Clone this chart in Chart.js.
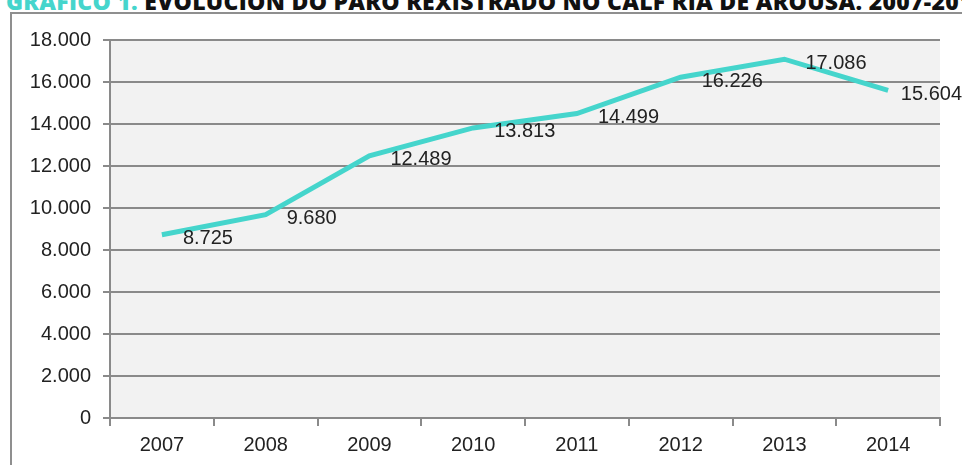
<!DOCTYPE html>
<html>
<head>
<meta charset="utf-8">
<script src="https://cdn.jsdelivr.net/npm/chart.js@4/dist/chart.umd.min.js"></script>
<style>
  html, body { margin: 0; padding: 0; background: #fff; overflow: hidden; }
  #wrap { position: relative; width: 962px; height: 465px; overflow: hidden; }
  #title {
    position: absolute; left: 6px; top: -15px; white-space: nowrap;
    font-family: "Open Sans", sans-serif; font-weight: 800; font-size: 23px;
    color: #111; letter-spacing: 0.3px;
  }
  #title span { color: #45d5cc; }
  canvas { position: absolute; left: 0; top: 0; }
</style>
</head>
<body>
<div id="wrap">
  <div id="title"><span>GRÁFICO 1.</span> EVOLUCIÓN DO PARO REXISTRADO NO CALF RIA DE AROUSA. 2007-2014</div>
  <canvas id="myChart" width="962" height="465"></canvas>
</div>
<script>
const years = ["2007", "2008", "2009", "2010", "2011", "2012", "2013", "2014"];
const paro = [8725, 9680, 12489, 13813, 14499, 16226, 17086, 15604];
const yTicks = [0, 2000, 4000, 6000, 8000, 10000, 12000, 14000, 16000, 18000];

const fmt = (v) => String(v).replace(/\B(?=(\d{3})+(?!\d))/g, ".");
const FONT = "'Liberation Sans', Arial, sans-serif";

// gray plot background + outer frame
const frame = {
  id: "frame",
  beforeDraw(chart) {
    const { ctx, chartArea: a } = chart;
    ctx.save();
    ctx.fillStyle = "#f2f2f2";
    ctx.fillRect(a.left, a.top, a.right - a.left, a.bottom - a.top);
    ctx.strokeStyle = "#8f8f8f";
    ctx.lineWidth = 2;
    ctx.strokeRect(11, 13, 1000, 500);
    ctx.restore();
  },
};

// value labels to the right of each point
const valueLabels = {
  id: "valueLabels",
  afterDatasetsDraw(chart) {
    const { ctx } = chart;
    const meta = chart.getDatasetMeta(0);
    ctx.save();
    ctx.font = "20px " + FONT;
    ctx.fillStyle = "#222";
    ctx.textBaseline = "middle";
    meta.data.forEach((pt, i) => {
      const txt = fmt(paro[i]);
      const w = ctx.measureText(txt).width;
      const x = Math.min(pt.x + 21, chart.width - w);
      ctx.fillText(txt, x, pt.y + 4);
    });
    ctx.restore();
  },
};

const ctx = document.getElementById("myChart").getContext("2d");
const myChart = new Chart(ctx, {
  type: "line",
  data: {
    labels: years,
    datasets: [
      {
        data: paro,
        borderColor: "#45d5cc",
        borderWidth: 5,
        pointRadius: 0,
        tension: 0,
        fill: false,
      },
    ],
  },
  options: {
    responsive: false,
    animation: false,
    layout: { padding: { left: 0, top: 40, right: 22, bottom: 0 } },
    plugins: { legend: { display: false }, tooltip: { enabled: false } },
    scales: {
      x: {
        offset: true,
        afterFit: (s) => { s.height = 47; },
        grid: {
          offset: true,
          drawOnChartArea: false,
          drawTicks: true,
          tickLength: 8,
          color: "#8a8a8a",
          lineWidth: 2,
        },
        border: { color: "#8a8a8a", width: 2 },
        ticks: {
          color: "#222",
          padding: 7,
          font: { family: FONT, size: 20 },
        },
      },
      y: {
        min: 0,
        max: 18000,
        afterFit: (s) => { s.width = 110; },
        afterBuildTicks: (s) => { s.ticks = yTicks.map((v) => ({ value: v })); },
        grid: { color: "#8a8a8a", lineWidth: 2, tickLength: 7 },
        border: { color: "#8a8a8a", width: 2 },
        ticks: {
          color: "#222",
          padding: 12,
          callback: (v) => fmt(v),
          font: { family: FONT, size: 20 },
        },
      },
    },
  },
  plugins: [frame, valueLabels],
});
</script>
</body>
</html>
